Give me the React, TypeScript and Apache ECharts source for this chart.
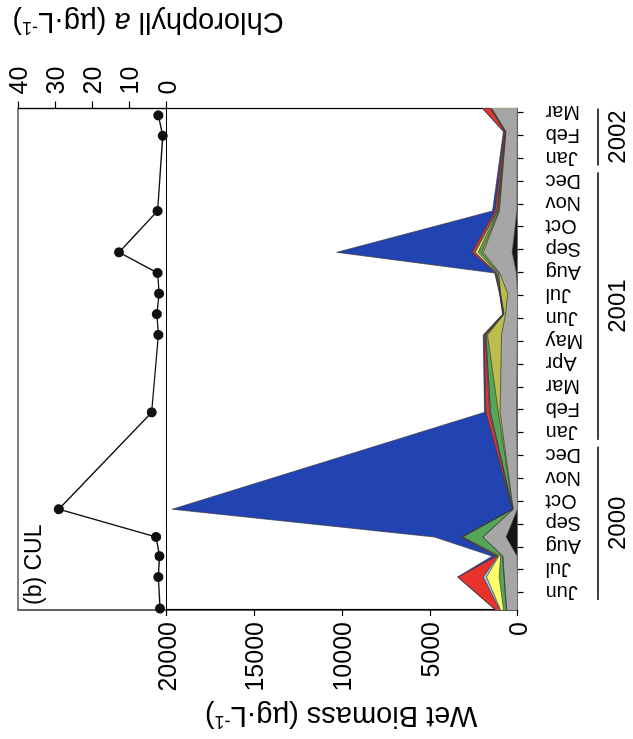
import React, { useEffect, useRef } from 'react';
import * as echarts from 'echarts';

// The figure is laid out as an ordinary chart (time across, biomass up)
// on a 739 x 633 canvas, then turned a quarter turn to the left.
const PAGE_W = 633;
const PAGE_H = 739;
const W = 739;
const H = 633;
const FONT = '"Liberation Sans", Arial, Helvetica, sans-serif';

// ---- time axis -------------------------------------------------------
const axisStart = '2000-05-09';
const axisEnd = '2002-03-07';
const tickLabels = [
  'Jun', 'Jul', 'Aug', 'Sep', 'Oct', 'Nov', 'Dec',
  'Jan', 'Feb', 'Mar', 'Apr', 'May', 'Jun', 'Jul', 'Aug', 'Sep', 'Oct', 'Nov', 'Dec',
  'Jan', 'Feb', 'Mar',
];
const yearLabels = ['2000', '2001', '2002'];

// ---- wet biomass (µg/L), stacked from the axis outward -------------
const biomassDates = [
  '2000-05-09', '2000-06-22', '2000-07-20', '2000-08-15', '2000-09-21',
  '2001-01-29', '2001-05-10', '2001-06-07', '2001-07-04', '2001-08-01',
  '2001-08-29', '2001-10-23', '2002-02-06', '2002-03-07',
];
const blackGroup = [0, 0, 20, 640, 0, 40, 10, 0, 0, 60, 300, 30, 10, 10];
const greyGroup = [620, 760, 820, 1330, 250, 950, 900, 680, 560, 950, 1650, 1000, 650, 1450];
const oliveGroup = [0, 0, 0, 0, 0, 100, 800, 80, 400, 60, 100, 30, 10, 20];
const greenGroup = [170, 285, 120, 1140, 30, 450, 100, 30, 20, 60, 200, 60, 20, 30];
const yellowGroup = [170, 720, 110, 40, 0, 0, 0, 0, 0, 50, 150, 20, 10, 20];
const lightBlueGroup = [50, 190, 40, 20, 0, 60, 20, 10, 10, 20, 50, 30, 10, 30];
const redGroup = [240, 1425, 80, 40, 20, 200, 80, 25, 20, 50, 150, 110, 60, 420];
const blueGroup = [0, 40, 250, 1520, 19370, 80, 40, 25, 10, 50, 7700, 140, 30, 20];

// ---- chlorophyll a (µg/L) ---------------------------------------------
const chlDates = [
  '2000-05-11', '2000-06-22', '2000-07-20', '2000-08-15', '2000-09-21',
  '2001-01-29', '2001-05-10', '2001-06-07', '2001-07-04', '2001-08-01',
  '2001-08-29', '2001-10-23', '2002-02-01', '2002-02-26',
];
const chlValues = [1.75, 2.2, 1.9, 2.8, 29.0, 4.0, 2.2, 2.6, 2.0, 2.4, 12.8, 2.4, 1.0, 2.2];

// months since 1 June 2000 (month ticks fall on whole numbers)
function monthOffset(d: string): number {
  const [y, m, day] = d.split('-').map(Number);
  const daysInMonth = new Date(Date.UTC(y, m, 0)).getUTCDate();
  return (y - 2000) * 12 + (m - 6) + (day - 1) / daysInMonth;
}

const xMin = monthOffset(axisStart);
const xMax = monthOffset(axisEnd);
const tickMonths = tickLabels.map((_, i) => i);
const tickYears = tickLabels.map((_, i) => 2000 + Math.floor((5 + i) / 12));

const groups = [
  { name: 'black', values: blackGroup, color: '#151515' },
  { name: 'grey', values: greyGroup, color: '#a6a6a6' },
  { name: 'olive', values: oliveGroup, color: '#bdbd4e' },
  { name: 'green', values: greenGroup, color: '#55a658' },
  { name: 'yellow', values: yellowGroup, color: '#ffff6a' },
  { name: 'light blue', values: lightBlueGroup, color: '#9cc2ee' },
  { name: 'red', values: redGroup, color: '#e8322c' },
  { name: 'blue', values: blueGroup, color: '#2243b2' },
];

export default function App() {
  const ref = useRef<HTMLDivElement>(null);

  useEffect(() => {
    const el = ref.current;
    if (!el) return;
    const chart = echarts.init(el, undefined, { renderer: 'svg', width: W, height: H });

    const bx = biomassDates.map(monthOffset);
    const cumulative: number[][] = [];
    let run = bx.map(() => 0);
    groups.forEach((g) => {
      run = run.map((r, i) => r + g.values[i]);
      cumulative.push(run);
    });
    const areaSeries = groups
      .map((g, k) => ({
        type: 'line',
        name: g.name,
        xAxisIndex: 0,
        yAxisIndex: 0,
        data: bx.map((x, i) => [x, cumulative[k][i]]),
        symbol: 'none',
        showSymbol: false,
        smooth: false,
        silent: true,
        lineStyle: { color: '#3a3a3a', width: 0.7 },
        areaStyle: { color: g.color, opacity: 1, origin: 'start' },
        z: 2,
      }))
      .reverse();

    const chlSeries = {
      type: 'line',
      name: 'Chlorophyll a',
      xAxisIndex: 1,
      yAxisIndex: 1,
      data: chlDates.map((d, i) => [monthOffset(d), chlValues[i]]),
      symbol: 'circle',
      symbolSize: 10,
      showSymbol: true,
      itemStyle: { color: '#111' },
      lineStyle: { color: '#111', width: 1.4 },
      z: 3,
    };

    const axisLineStyle = { color: '#000', width: 1.2 };

    chart.setOption({
      animation: false,
      backgroundColor: '#ffffff',
      textStyle: { fontFamily: FONT, color: '#000' },
      grid: [
        { left: 129, top: 166.5, width: 501.5, height: 351, show: true, borderColor: '#000', borderWidth: 1.2, backgroundColor: 'rgba(0,0,0,0)', containLabel: false, outerBoundsMode: 'none' },
        { left: 129, top: 18, width: 501.5, height: 148.5, show: true, borderColor: '#000', borderWidth: 1.2, backgroundColor: 'rgba(0,0,0,0)', containLabel: false, outerBoundsMode: 'none' },
      ],
      xAxis: [
        {
          type: 'value', gridIndex: 0, min: xMin, max: xMax, position: 'bottom',
          axisLine: { show: true, onZero: false, lineStyle: axisLineStyle },
          axisTick: { show: true, inside: false, length: 6, customValues: tickMonths, lineStyle: axisLineStyle },
          axisLabel: {
            show: true, customValues: tickMonths, rotate: 90, margin: 28, fontSize: 20,
            color: '#000', fontFamily: FONT, hideOverlap: false,
            formatter: (v: number) => tickLabels[Math.round(v)] ?? '',
          },
          splitLine: { show: false },
        },
        {
          type: 'value', gridIndex: 1, min: xMin, max: xMax,
          axisLine: { show: false }, axisTick: { show: false }, axisLabel: { show: false }, splitLine: { show: false },
        },
      ],
      yAxis: [
        {
          type: 'value', gridIndex: 0, min: 0, max: 20000, interval: 5000, position: 'left',
          axisLine: { show: true, onZero: false, lineStyle: axisLineStyle },
          axisTick: { show: true, inside: false, length: 6, lineStyle: axisLineStyle },
          axisLabel: {
            fontSize: 25, margin: 12, color: '#000', fontFamily: FONT, hideOverlap: false,
            formatter: (v: number) => String(v),
          },
          splitLine: { show: false },
        },
        {
          type: 'value', gridIndex: 1, min: 0, max: 40, interval: 10, position: 'right',
          axisLine: { show: true, onZero: false, lineStyle: axisLineStyle },
          axisTick: { show: true, inside: false, length: 7, lineStyle: axisLineStyle },
          axisLabel: {
            fontSize: 25, margin: 14, color: '#000', fontFamily: FONT, hideOverlap: false,
            formatter: (v: number) => String(v),
          },
          splitLine: { show: false },
        },
      ],
      series: [...areaSeries, chlSeries],
    });

    const xPx = (m: number) => chart.convertToPixel({ xAxisIndex: 0 }, m) as number;

    const yearEls: any[] = [];
    yearLabels.forEach((label) => {
      const idx = tickYears.map((y, i) => (y === Number(label) ? i : -1)).filter((i) => i >= 0);
      const a = Math.max(idx[0] - 0.3, xMin);
      const b = Math.min(idx[idx.length - 1] + 0.4, xMax);
      const x1 = xPx(a);
      const x2 = xPx(b);
      yearEls.push({
        type: 'line', silent: true,
        shape: { x1, y1: 598, x2, y2: 598 },
        style: { stroke: '#000', lineWidth: 1.3 },
      });
      yearEls.push({
        type: 'text', silent: true, x: (x1 + x2) / 2, y: 616,
        style: {
          text: label, fill: '#000', fontSize: 24, fontFamily: FONT,
          textAlign: 'center', textVerticalAlign: 'middle', align: 'center', verticalAlign: 'middle',
        },
      });
    });

    const titleRich = {
      n: { fontSize: 29, fontFamily: FONT, fill: '#000', color: '#000' },
      i: { fontSize: 29, fontFamily: FONT, fontStyle: 'italic', fill: '#000', color: '#000' },
      s: { fontSize: 18, fontFamily: FONT, fill: '#000', color: '#000', verticalAlign: 'top' },
    };

    chart.setOption({
      graphic: [
        {
          type: 'text', silent: true, x: 22, y: 341, rotation: Math.PI / 2,
          style: {
            text: '{n|Wet Biomass (µg·L}{s|-1}{n|)}', rich: titleRich,
            textAlign: 'center', textVerticalAlign: 'middle', align: 'center', verticalAlign: 'middle',
          },
        },
        {
          type: 'text', silent: true, x: 716, y: 148, rotation: Math.PI / 2,
          style: {
            text: '{n|Chlorophyll }{i|a}{n| (µg·L}{s|-1}{n|)}', rich: titleRich,
            textAlign: 'center', textVerticalAlign: 'middle', align: 'center', verticalAlign: 'middle',
          },
        },
        {
          type: 'text', silent: true, x: 134, y: 33,
          style: {
            text: '(b) CUL', fill: '#000', fontSize: 23, fontFamily: FONT,
            textAlign: 'left', textVerticalAlign: 'middle', align: 'left', verticalAlign: 'middle',
          },
        },
        ...yearEls,
      ],
    });

    return () => chart.dispose();
  }, []);

  return (
    <div
      ref={ref}
      style={{
        position: 'fixed',
        left: (PAGE_W - W) / 2,
        top: (PAGE_H - H) / 2,
        width: W,
        height: H,
        background: '#fff',
        transform: 'rotate(-90deg)',
        transformOrigin: '50% 50%',
      }}
    />
  );
}
